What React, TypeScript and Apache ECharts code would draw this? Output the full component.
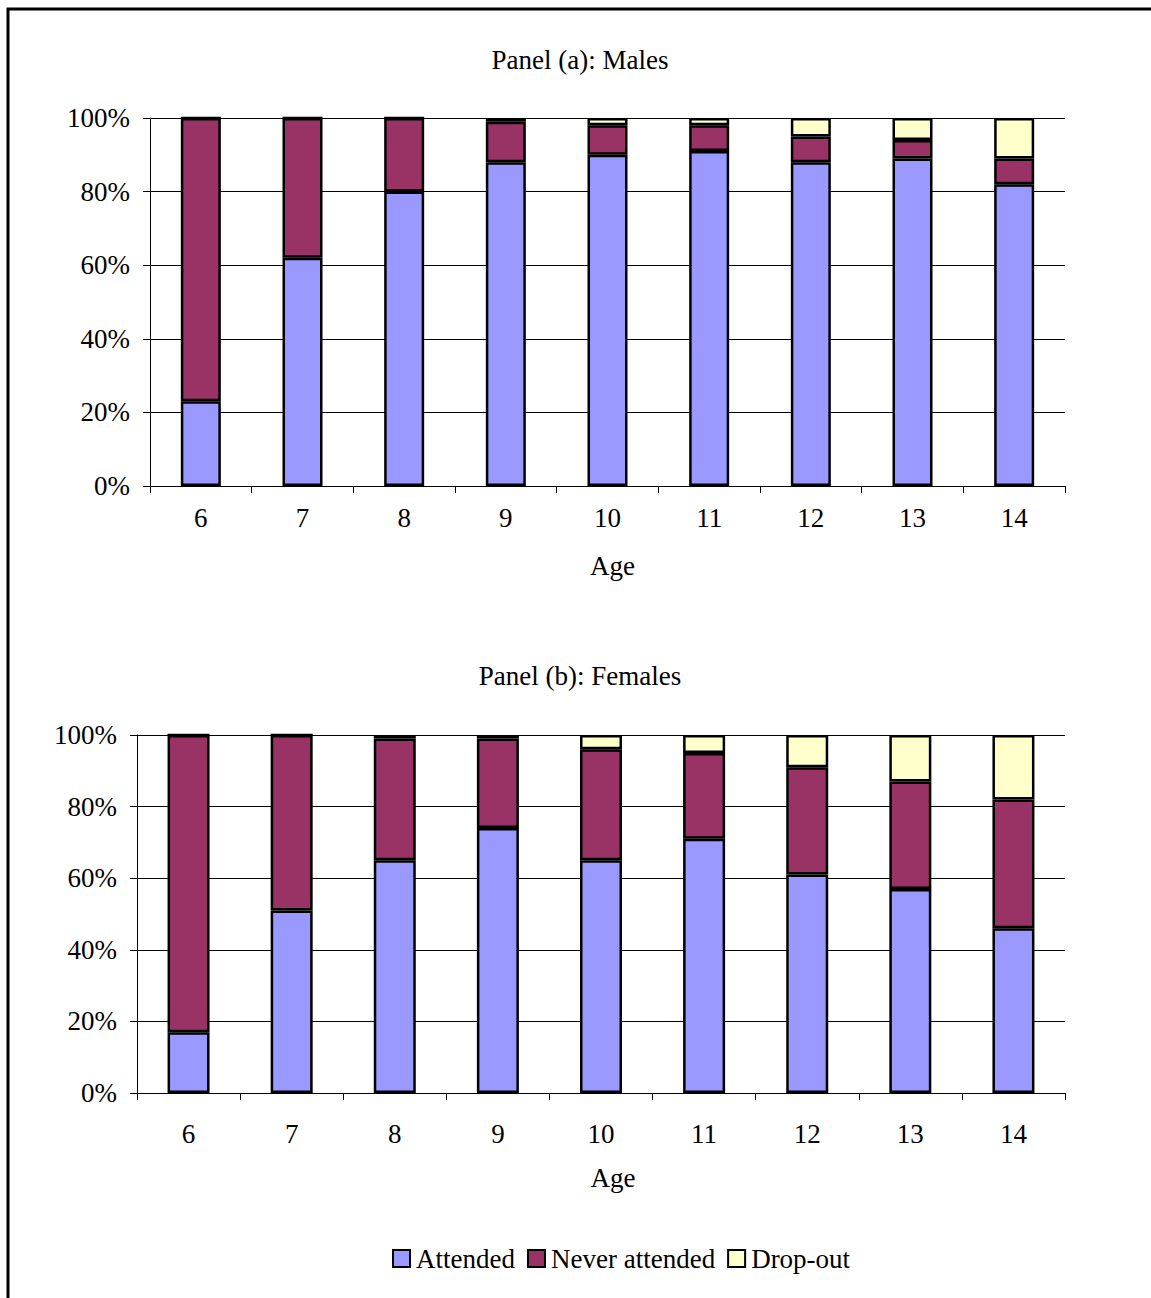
import React, { useEffect, useRef } from "react";
import * as echarts from "echarts";

const ages = ["6", "7", "8", "9", "10", "11", "12", "13", "14"];
const maleAttended = [23, 62, 80, 88, 90, 91, 88, 89, 82];
const maleNever = [77, 38, 20, 11, 8, 7, 7, 5, 7];
const maleDrop = [0, 0, 0, 1, 2, 2, 5, 6, 11];
const femaleAttended = [17, 51, 65, 74, 65, 71, 61, 57, 46];
const femaleNever = [83, 49, 34, 25, 31, 24, 30, 30, 36];
const femaleDrop = [0, 0, 1, 1, 4, 5, 9, 13, 18];
const seriesNames = ["Attended", "Never attended", "Drop-out"];
const colors = ["#9999FF", "#993366", "#FFFFCC"];
const panelTitles = ["Panel (a): Males", "Panel (b): Females"];

const FONT = "'Liberation Serif', 'Times New Roman', serif";
const FS = 27;

export default function App() {
  const ref = useRef<HTMLDivElement>(null);
  useEffect(() => {
    document.body.style.margin = "0";
    const chart = echarts.init(ref.current!, null, { renderer: "svg" });
    const text = { fontFamily: FONT, fontSize: FS, color: "#000" };
    const mkX = (gridIndex: number, margin: number, gap: number, shift: number) => ({
      type: "category",
      gridIndex,
      data: ages,
      axisLine: { lineStyle: { color: "#000", width: 1 } },
      axisTick: { show: true, length: 7, lineStyle: { color: "#000" } },
      axisLabel: { ...text, margin },
      name: "Age",
      nameLocation: "middle",
      nameGap: gap,
      nameTextStyle: { ...text, padding: [0, 0, 0, shift] },
    });
    const mkY = (gridIndex: number) => ({
      type: "value",
      gridIndex,
      min: 0,
      max: 100,
      interval: 20,
      axisLine: { show: true, lineStyle: { color: "#000", width: 1 } },
      axisTick: { show: true, length: 7, lineStyle: { color: "#000" } },
      axisLabel: { ...text, margin: 20, formatter: "{value}%" },
      splitLine: { show: true, lineStyle: { color: "#000", width: 1 } },
    });
    const data = [
      [maleAttended, maleNever, maleDrop],
      [femaleAttended, femaleNever, femaleDrop],
    ];
    const series: any[] = [];
    data.forEach((group, g) => {
      group.forEach((vals, i) => {
        series.push({
          type: "bar",
          name: seriesNames[i],
          xAxisIndex: g,
          yAxisIndex: g,
          stack: "s" + g,
          data: vals,
          barWidth: g === 0 ? 40 : 42,
          itemStyle: { color: colors[i], borderColor: "#000", borderWidth: 2.5 },
        });
      });
    });
    chart.setOption({
      animation: false,
      backgroundColor: "#fff",
      grid: [
        { left: 150, right: 86, top: 118, height: 368 },
        { left: 137, right: 86, top: 735, height: 358 },
      ],
      xAxis: [mkX(0, 18, 66, 10), mkX(1, 27, 71, 24)],
      yAxis: [mkY(0), mkY(1)],
      legend: {
        data: seriesNames.map((n) => ({ name: n, itemStyle: { borderColor: "#000", borderWidth: 2 } })),
        left: 387,
        top: 1240,
        itemWidth: 17,
        itemHeight: 17,
        itemGap: 12,
        icon: "rect",
        textStyle: { ...text, padding: [0, 0, 0, 1] },
      },
      graphic: [
        {
          type: "rect",
          shape: { x: 8, y: 9, width: 1300, height: 1400 },
          style: { fill: "none", stroke: "#000", lineWidth: 3 },
          silent: true,
        },
        {
          type: "text",
          x: 580,
          y: 60,
          style: { text: panelTitles[0], font: `${FS}px ${FONT}`, fill: "#000", textAlign: "center", textVerticalAlign: "middle" },
        },
        {
          type: "text",
          x: 580,
          y: 676,
          style: { text: panelTitles[1], font: `${FS}px ${FONT}`, fill: "#000", textAlign: "center", textVerticalAlign: "middle" },
        },
      ],
      series,
    });
    return () => chart.dispose();
  }, []);
  return <div ref={ref} style={{ width: 1151, height: 1298 }} />;
}
